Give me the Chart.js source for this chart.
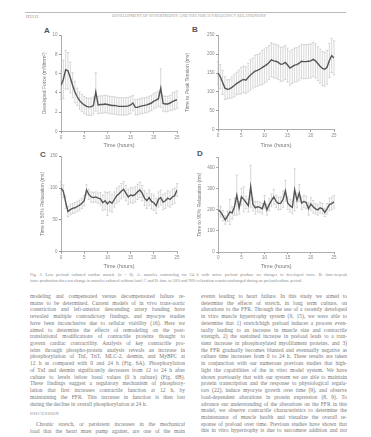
<!DOCTYPE html>
<html>
<head>
<meta charset="utf-8">
<script src="https://cdn.jsdelivr.net/npm/chart.js@4.4.1/dist/chart.umd.min.js"></script>
<style>
  body { margin: 0; width: 371px; height: 437px; background: #fff; position: relative; overflow: hidden; font-family: "Liberation Serif", serif; color: #777; }
  canvas { position: absolute; }
  .abs { position: absolute; }
  .letter { position: absolute; font: bold 8px "Liberation Sans", sans-serif; color: #555; }
  .col { position: absolute; font-size: 5.5px; line-height: 6.73px; }
  .col div { height: 6.73px; overflow: hidden; text-align: justify; text-align-last: justify; }
  .col div.end { text-align-last: left; }
  .cap { position: absolute; left: 30px; width: 317px; font-size: 4.2px; line-height: 6.3px; color: #888; }
  .cap div { height: 6.3px; overflow: hidden; text-align: justify; text-align-last: justify; }
</style>
</head>
<body>

<div class="abs" style="left:25px;top:11.5px;width:321px;border-top:0.6px solid #bbb;"></div>
<div class="abs" style="left:26px;top:13.5px;font-size:4.6px;color:#888;">H2312</div>
<div class="abs" style="left:95px;top:14px;width:188px;text-align:center;font-size:3.9px;color:#999;letter-spacing:0.1px;">DEVELOPMENT OF HYPERTROPHY AND THE FORCE-FREQUENCY RELATIONSHIP</div>

<div class="letter" style="left:44px;top:26px;">A</div>
<div class="letter" style="left:192px;top:25px;">B</div>
<div class="letter" style="left:40px;top:150px;">C</div>
<div class="letter" style="left:197px;top:149px;">D</div>

<canvas id="chartA"></canvas>
<canvas id="chartB"></canvas>
<canvas id="chartC"></canvas>
<canvas id="chartD"></canvas>

<div class="cap" style="top:272px;">
  <div>Fig. 3. Low preload cultured cardiac muscle (n = 8). A: muscles contracting for 24 h with active preload produce no changes in developed force. B: time-to-peak</div>
  <div style="text-align-last:left;">force production does not change in muscles cultured without load. C and D: time to 50% and 90% relaxation remain unchanged during no preload culture period.</div>
</div>

<div class="col" style="left:30px;top:293px;width:155px;">
  <div>modeling and compensated versus decompensated failure re-</div>
  <div>mains to be determined. Current models of in vivo trans-aortic</div>
  <div>constriction and left-anterior descending artery banding have</div>
  <div>revealed multiple contradictory findings, and myocyte studies</div>
  <div>have been inconclusive due to cellular viability (16). Here we</div>
  <div>aimed to determine the effects of remodeling on the post-</div>
  <div>translational modifications of contractile proteins thought to</div>
  <div>govern cardiac contractility. Analysis of key contractile pro-</div>
  <div>teins through phospho-protein analysis reveals an increase in</div>
  <div>phosphorylation of TnI, TnT, MLC-2, desmin, and MyBPC at</div>
  <div>12 h as compared with 0 and 24 h (Fig. 6A). Phosphorylation</div>
  <div>of TnI and desmin significantly decreases from 12 to 24 h after</div>
  <div>culture to levels below basal values (0 h culture) (Fig. 6B).</div>
  <div>These findings suggest a regulatory mechanism of phosphory-</div>
  <div>lation that first increases contractile function at 12 h, by</div>
  <div>maintaining the FFR. This increase in function is then lost</div>
  <div class="end">during the decline in overall phosphorylation at 24 h.</div>
</div>
<div class="abs" style="left:30px;top:411px;font-size:4.4px;letter-spacing:0.3px;color:#888;">DISCUSSION</div>
<div class="col" style="left:30px;top:421px;width:155px;">
  <div style="text-indent:6px;">Chronic stretch, or persistent increases in the mechanical</div>
  <div>load that the heart must pump against, are one of the main</div>
</div>

<div class="col" style="left:201px;top:293px;width:146px;">
  <div>events leading to heart failure. In this study we aimed to</div>
  <div>determine the effects of stretch, in long term culture, on</div>
  <div>alterations to the FFR. Through the use of a recently developed</div>
  <div>in vitro muscle hypertrophy system (9, 15), we were able to</div>
  <div>determine that 1) stretch/high preload induces a process even-</div>
  <div>tually leading to an increase in muscle size and contractile</div>
  <div>strength, 2) the sustained increase in preload leads to a tran-</div>
  <div>sient increase in phosphorylated myofilament proteins, and 3)</div>
  <div>the FFR gradually becomes blunted and eventually negative as</div>
  <div>culture time increases from 0 to 24 h. These results are taken</div>
  <div>in conjunction with our numerous previous studies that high-</div>
  <div>light the capabilities of the in vitro model system. We have</div>
  <div>shown previously that with our system we are able to maintain</div>
  <div>protein transcription and the response to physiological regula-</div>
  <div>tors (22), induce myocyte growth over time (9), and observe</div>
  <div>load-dependent alterations in protein expression (8, 9). To</div>
  <div>advance our understanding of the alterations on the FFR in this</div>
  <div>model, we observe contractile characteristics to determine the</div>
  <div>maintenance of muscle health and visualize the overall re-</div>
  <div>sponse of preload over time. Previous studies have shown that</div>
  <div>this in vitro hypertrophy is due to sarcomere addition and not</div>
</div>

<script>
// time points (hours)
const hours = [0, 0.5, 1, 1.5, 2, 2.5, 3, 3.5, 4, 4.5, 5, 5.5, 6, 6.5, 7, 7.5, 8, 8.5, 9, 9.5,
  10, 10.5, 11, 11.5, 12, 12.5, 13, 13.5, 14, 14.5, 15, 15.5, 16, 16.5, 17, 17.5, 18, 18.5, 19, 19.5,
  20, 20.5, 21, 21.5, 22, 22.5, 23, 23.5, 24, 24.5, 25];
const xTicks = [0, 5, 10, 15, 20, 25];

// A - developed force (mN/mm2)
const forceA = [4.8, 5.4, 6.4, 6.3, 5.6, 4.8, 4.1, 3.6, 3.2, 2.95, 2.75, 2.6, 2.55, 2.55, 2.7, 4.1, 2.75, 2.8, 2.8, 2.85,
  2.8, 2.75, 2.7, 2.7, 2.65, 2.6, 2.6, 2.6, 2.6, 2.65, 2.75, 2.95, 2.5, 2.5, 2.6, 2.65, 2.7, 2.75, 2.85, 2.95,
  3.15, 3.25, 3.4, 4.5, 2.9, 2.85, 2.85, 2.95, 3.1, 3.2, 3.3];
const errA = [1.5, 2.0, 2.0, 1.9, 1.6, 1.3, 1.1, 0.9, 0.9, 0.9, 0.9, 0.9, 0.9, 0.9, 0.9, 2.0, 0.9, 0.9, 0.9, 0.9,
  0.9, 0.9, 0.9, 0.9, 0.9, 0.9, 0.9, 0.9, 0.9, 0.9, 0.9, 0.8, 0.8, 0.8, 0.8, 0.8, 0.8, 0.8, 0.8, 0.8,
  0.8, 0.8, 0.8, 2.0, 0.8, 0.8, 0.8, 0.8, 0.9, 0.9, 0.9];

// B - time to peak tension (ms)
const peakB = [150, 140, 125, 110, 107, 108, 112, 117, 122, 126, 130, 133, 131, 138, 145, 150, 155, 157, 160, 164,
  168, 172, 178, 185, 182, 181, 178, 173, 174, 178, 171, 163, 167, 171, 172, 176, 181, 180, 180, 181,
  182, 186, 182, 175, 168, 162, 160, 165, 183, 196, 190];
const errB = [30, 32, 32, 30, 25, 25, 28, 30, 30, 32, 35, 35, 35, 38, 40, 40, 42, 42, 42, 45,
  45, 45, 45, 45, 45, 45, 45, 45, 45, 45, 45, 45, 45, 45, 45, 45, 45, 45, 45, 45,
  45, 45, 45, 45, 45, 45, 45, 45, 45, 45, 45];

// C - time to 50% relaxation (ms)
const relax50 = [100, 95, 78, 63, 66, 68, 69, 71, 73, 76, 80, 97, 90, 86, 85, 86, 84, 83, 77, 80,
  75, 79, 76, 82, 88, 91, 95, 98, 92, 86, 89, 88, 90, 94, 97, 92, 84, 80, 85, 79,
  77, 72, 82, 85, 78, 80, 84, 82, 86, 88, 97];
const errC = [10, 10, 10, 8, 8, 8, 8, 8, 8, 8, 8, 8, 8, 8, 8, 8, 8, 10, 12, 14,
  18, 15, 14, 12, 12, 12, 12, 12, 12, 12, 12, 12, 12, 12, 12, 12, 12, 12, 12, 12,
  12, 12, 12, 12, 12, 12, 12, 12, 12, 12, 10];

// D - time to 90% relaxation (ms)
const relax90 = [200, 190, 172, 152, 170, 190, 186, 215, 270, 210, 262, 250, 235, 220, 310, 225, 210, 215, 212, 205,
  238, 200, 225, 245, 262, 240, 230, 232, 250, 290, 232, 220, 212, 295, 245, 280, 232, 240, 235, 205,
  228, 215, 205, 200, 210, 205, 188, 205, 225, 230, 238];
const errD = [20, 25, 25, 20, 25, 60, 30, 40, 95, 30, 40, 60, 30, 30, 100, 30, 30, 25, 25, 25,
  30, 25, 30, 30, 35, 30, 30, 30, 40, 50, 30, 30, 30, 100, 35, 40, 30, 30, 30, 30,
  30, 30, 25, 25, 25, 25, 20, 25, 30, 30, 30];

// vertical error bars with caps, drawn under the mean line
const errorBars = {
  id: 'errorBars',
  beforeDatasetsDraw(chart, args, opts) {
    const ctx = chart.ctx;
    const xs = chart.scales.x, ys = chart.scales.y;
    ctx.save();
    ctx.strokeStyle = '#bdbdbd';
    ctx.lineWidth = 0.6;
    chart.data.datasets[0].data.forEach((p, i) => {
      const e = opts.err[i];
      const x = xs.getPixelForValue(p.x);
      const hi = ys.getPixelForValue(p.y + e);
      const lo = ys.getPixelForValue(Math.max(p.y - e, ys.min));
      ctx.beginPath();
      ctx.moveTo(x, hi); ctx.lineTo(x, lo);
      ctx.moveTo(x - 1.2, hi); ctx.lineTo(x + 1.2, hi);
      ctx.moveTo(x - 1.2, lo); ctx.lineTo(x + 1.2, lo);
      ctx.stroke();
    });
    ctx.restore();
  }
};

// plot = page rectangle of the chart area, yTitleX / xTitleY = centres of axis titles
function makePanel(id, values, errs, yMax, yStep, yTitle, plot, yTitleX, xTitleY) {
  const canvas = document.getElementById(id);
  const left = yTitleX - 3, top = plot.top - 4;
  const right = plot.right + 7, xTitleBottom = xTitleY + 3.3;
  const width = Math.round(right - left), height = Math.round(xTitleBottom + 1 - top);
  canvas.width = width; canvas.height = height;
  canvas.style.left = left + 'px'; canvas.style.top = top + 'px';

  const tickFont = { family: 'Liberation Sans', size: 4.5 };
  const axisColor = '#999';

  new Chart(canvas, {
    type: 'line',
    data: {
      datasets: [{
        data: hours.map((h, i) => ({ x: h, y: values[i] })),
        borderColor: '#555',
        borderWidth: 1.4,
        pointRadius: 0,
        tension: 0
      }]
    },
    options: {
      responsive: false,
      animation: false,
      events: [],
      layout: { padding: { top: 4, right: 7, bottom: 1, left: 0 } },
      plugins: {
        legend: { display: false },
        tooltip: { enabled: false },
        errorBars: { err: errs }
      },
      scales: {
        x: {
          type: 'linear', min: 0, max: 25,
          afterBuildTicks: s => { s.ticks = xTicks.map(v => ({ value: v })); },
          afterFit: s => { s.height = xTitleBottom - plot.bottom; },
          ticks: { font: tickFont, color: '#888', padding: 1.5, maxRotation: 0 },
          grid: { display: true, drawOnChartArea: false, tickLength: 2, color: axisColor },
          border: { color: axisColor, width: 0.8 },
          title: { display: true, text: 'Time (hours)', font: { family: 'Liberation Sans', size: 5.5 }, color: '#777', padding: 0 }
        },
        y: {
          min: 0, max: yMax,
          afterFit: s => { s.width = plot.left - left; },
          ticks: {
            stepSize: yStep, font: tickFont, color: '#888', padding: 1.5,
            callback: v => (v % yStep === 0 ? v : '')
          },
          grid: { display: true, drawOnChartArea: false, tickLength: 2, color: axisColor },
          border: { color: axisColor, width: 0.8 },
          title: { display: true, text: yTitle, font: { family: 'Liberation Sans', size: 5 }, color: '#777', padding: 0 }
        }
      }
    },
    plugins: [errorBars]
  });
}

makePanel('chartA', forceA, errA, 10, 2, 'Developed Force (mN/mm\u00B2)',
  { left: 61, top: 35, right: 177, bottom: 131.7 }, 45, 146);
makePanel('chartB', peakB, errB, 250, 50, 'Time to Peak Tension (ms)',
  { left: 218.3, top: 35, right: 334, bottom: 130 }, 188.3, 146);
makePanel('chartC', relax50, errC, 150, 50, 'Time to 50% Relaxation (ms)',
  { left: 61, top: 156, right: 177, bottom: 251.7 }, 43, 266.7);
makePanel('chartD', relax90, errD, 450, 100, 'Time to 90% Relaxation (ms)',
  { left: 218.3, top: 157, right: 334, bottom: 252 }, 200, 266.7);
</script>
</body>
</html>
